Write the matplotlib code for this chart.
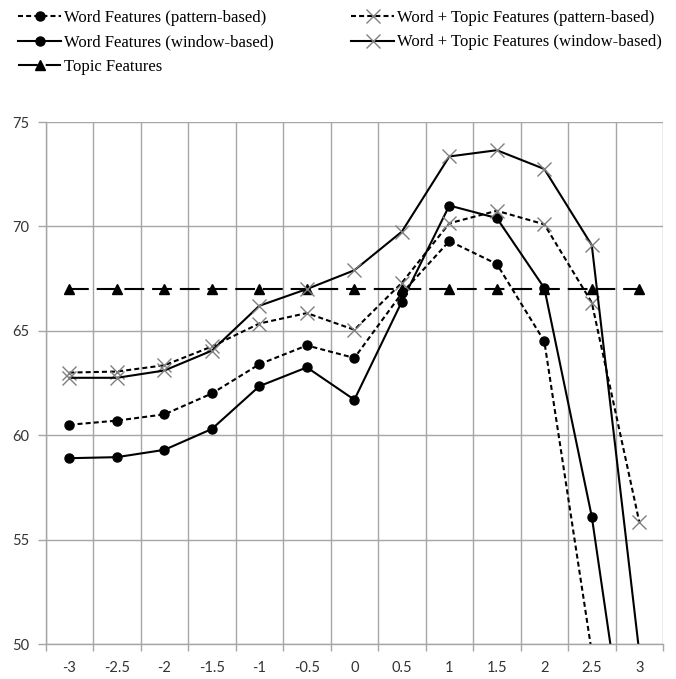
import matplotlib
matplotlib.use('Agg')
from matplotlib import pyplot as plt

# x categories (Excel category axis)
x_labels = ['-3', '-2.5', '-2', '-1.5', '-1', '-0.5', '0', '0.5', '1', '1.5', '2', '2.5', '3']

word_pattern = [60.5, 60.7, 61.0, 62.0, 63.4, 64.3, 63.7, 66.8, 69.3, 68.2, 64.5, 49.6, None]
word_window = [58.9, 58.95, 59.3, 60.3, 62.35, 63.25, 61.7, 66.4, 71.0, 70.4, 67.05, 56.1, 40.5]
topic = [67.0] * 13
wt_pattern = [63.0, 63.05, 63.35, 64.25, 65.35, 65.85, 65.05, 67.3, 70.15, 70.75, 70.1, 66.35, 55.85]
wt_window = [62.75, 62.75, 63.1, 64.05, 66.2, 67.0, 67.9, 69.75, 73.35, 73.65, 72.75, 69.1, 49.6]

fig = plt.figure(figsize=(6.76, 6.79), dpi=100)
ax = fig.add_axes([0.0676, 0.0515, 0.9132, 0.7688])

xs = list(range(len(x_labels)))


def clean(vals):
    return [float('nan') if v is None else v for v in vals]


short = (2.4, 1.5)
long_ = (9.5, 3.8)

l1, = ax.plot(xs, clean(word_pattern), color='black', lw=1.5, dashes=short,
              marker='o', ms=6.5, mfc='black', mec='black',
              label='Word Features (pattern-based)')
l2, = ax.plot(xs, clean(word_window), color='black', lw=1.5,
              marker='o', ms=6.5, mfc='black', mec='black',
              label='Word Features (window-based)')
l3, = ax.plot(xs, topic, color='black', lw=1.5, dashes=long_,
              marker='^', ms=6.5, mfc='black', mec='black',
              label='Topic Features')
l4, = ax.plot(xs, clean(wt_pattern), color='black', lw=1.5, dashes=short,
              marker='x', ms=10, mec='#808080', mew=1.0,
              label='Word + Topic Features (pattern-based)')
l5, = ax.plot(xs, clean(wt_window), color='black', lw=1.5,
              marker='x', ms=10, mec='#808080', mew=1.0,
              label='Word + Topic Features (window-based)')

ax.set_xlim(-0.5, len(x_labels) - 0.5)
ax.set_ylim(50, 75)
ax.set_xticks(xs)
ax.set_xticklabels(x_labels)
ax.set_xticks([i - 0.5 for i in range(len(x_labels) + 1)], minor=True)
ax.set_yticks([50, 55, 60, 65, 70, 75])

grid_c = '#a6a6a6'
ax.grid(True, which='minor', axis='x', color=grid_c, lw=1)
ax.grid(True, which='major', axis='y', color=grid_c, lw=1)
ax.set_axisbelow(True)
for s in ['top', 'right']:
    ax.spines[s].set_visible(False)
for s in ['left', 'bottom']:
    ax.spines[s].set_color(grid_c)
    ax.spines[s].set_linewidth(1)

ax.tick_params(axis='x', which='major', length=0, pad=12)
ax.tick_params(axis='x', which='minor', length=5, color=grid_c, width=1)
ax.tick_params(axis='y', length=6, color=grid_c, width=1, pad=6)
for lab in ax.get_xticklabels() + ax.get_yticklabels():
    lab.set_fontfamily(['Lato', 'DejaVu Sans'])
    lab.set_fontsize(10.5)
    lab.set_color('#333333')

fig.legend(handles=[l1, l2, l3, l4, l5], ncol=2, loc='upper left',
           bbox_to_anchor=(0.012, 1.0), frameon=False,
           prop={'family': 'Liberation Serif', 'size': 12},
           handlelength=2.6, handletextpad=0.18, columnspacing=4.6,
           labelspacing=0.5, borderaxespad=0.2)

fig.savefig('out.png', dpi=100)
